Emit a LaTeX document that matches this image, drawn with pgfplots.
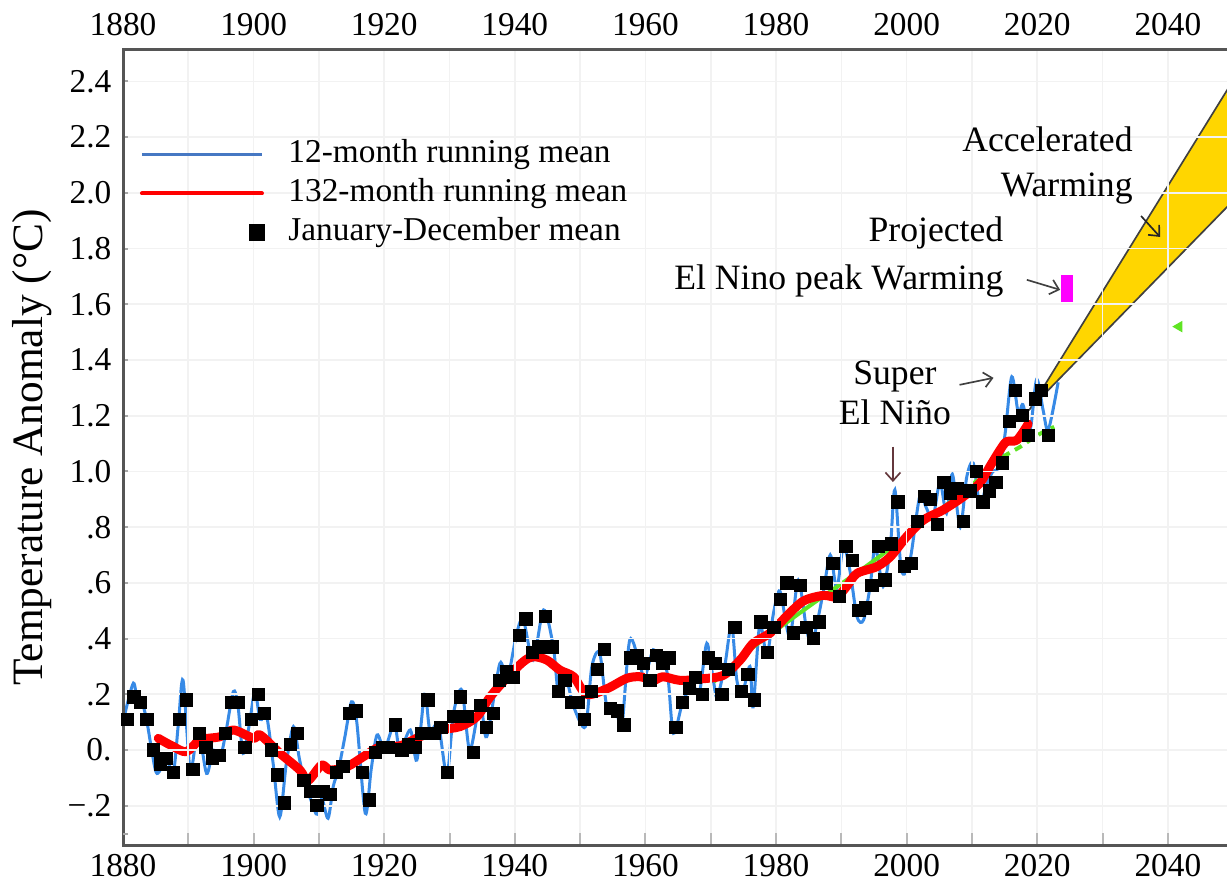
\documentclass[border=0pt]{standalone}
\usepackage{fontspec}
\setmainfont{Liberation Serif}
\usepackage{pgfplots}
\usepackage{pgfplotstable}
\pgfplotsset{compat=1.18}
\usetikzlibrary{arrows.meta}

\definecolor{runblue}{RGB}{55,138,230}
\definecolor{legblue}{RGB}{70,120,195}
\definecolor{wedge}{RGB}{255,214,0}
\definecolor{trendgreen}{RGB}{95,228,35}
\definecolor{axisgray}{RGB}{85,85,85}
\definecolor{arrowred}{RGB}{100,55,60}
\definecolor{peakmagenta}{RGB}{255,0,255}

% January-December means
\pgfplotstableread{
x y
1880.7 0.11
1881.7 0.19
1882.7 0.17
1883.7 0.11
1884.7 0.00
1885.7 -0.05
1886.7 -0.03
1887.7 -0.08
1888.7 0.11
1889.7 0.18
1890.7 -0.07
1891.7 0.06
1892.7 0.01
1893.7 -0.03
1894.7 -0.02
1895.7 0.06
1896.7 0.17
1897.7 0.17
1898.7 0.01
1899.7 0.11
1900.7 0.20
1901.7 0.13
1902.7 0.00
1903.7 -0.09
1904.7 -0.19
1905.7 0.02
1906.7 0.06
1907.7 -0.11
1908.7 -0.15
1909.7 -0.20
1910.7 -0.15
1911.7 -0.16
1912.7 -0.08
1913.7 -0.06
1914.7 0.13
1915.7 0.14
1916.7 -0.08
1917.7 -0.18
1918.7 -0.01
1919.7 0.01
1920.7 0.01
1921.7 0.09
1922.7 0.00
1923.7 0.02
1924.7 0.01
1925.7 0.06
1926.7 0.18
1927.7 0.06
1928.7 0.08
1929.7 -0.08
1930.7 0.12
1931.7 0.19
1932.7 0.12
1933.7 -0.01
1934.7 0.16
1935.7 0.08
1936.7 0.13
1937.7 0.25
1938.7 0.28
1939.7 0.26
1940.7 0.41
1941.7 0.47
1942.7 0.35
1943.7 0.37
1944.7 0.48
1945.7 0.37
1946.7 0.21
1947.7 0.25
1948.7 0.17
1949.7 0.17
1950.7 0.11
1951.7 0.21
1952.7 0.29
1953.7 0.36
1954.7 0.15
1955.7 0.14
1956.7 0.09
1957.7 0.33
1958.7 0.34
1959.7 0.31
1960.7 0.25
1961.7 0.34
1962.7 0.31
1963.7 0.33
1964.7 0.08
1965.7 0.17
1966.7 0.22
1967.7 0.26
1968.7 0.20
1969.7 0.33
1970.7 0.31
1971.7 0.20
1972.7 0.29
1973.7 0.44
1974.7 0.21
1975.7 0.27
1976.7 0.18
1977.7 0.46
1978.7 0.35
1979.7 0.44
1980.7 0.54
1981.7 0.60
1982.7 0.42
1983.7 0.59
1984.7 0.44
1985.7 0.40
1986.7 0.46
1987.7 0.60
1988.7 0.67
1989.7 0.55
1990.7 0.73
1991.7 0.68
1992.7 0.50
1993.7 0.51
1994.7 0.59
1995.7 0.73
1996.7 0.61
1997.7 0.74
1998.7 0.89
1999.7 0.66
2000.7 0.67
2001.7 0.82
2002.7 0.91
2003.7 0.90
2004.7 0.81
2005.7 0.96
2006.7 0.92
2007.7 0.94
2008.7 0.82
2009.7 0.93
2010.7 1.00
2011.7 0.89
2012.7 0.93
2013.7 0.96
2014.7 1.03
2015.7 1.18
2016.7 1.29
2017.7 1.20
2018.7 1.13
2019.7 1.26
2020.7 1.29
2021.7 1.13
}\annualmean

% 12-month running mean (turning points)
\pgfplotstableread{
x y
1880.2 0.12
1881.6 0.24
1882.3 0.155
1882.9 0.17
1883.6 0.11
1884.4 0.0
1885.2 -0.084
1886.7 -0.036
1887.7 -0.084
1888.5 0.10
1889.2 0.25
1890.3 -0.072
1891.5 0.072
1892.8 -0.084
1893.8 0.0
1894.9 -0.024
1895.8 0.07
1896.9 0.21
1897.6 0.16
1898.4 -0.012
1899.4 0.10
1900.2 0.21
1901.0 0.11
1902.0 0.12
1903.0 -0.05
1904.0 -0.24
1905.0 -0.05
1906.1 0.084
1907.0 -0.03
1907.9 -0.12
1909.1 -0.20
1909.7 -0.23
1910.4 -0.17
1911.4 -0.245
1912.2 -0.13
1913.0 -0.07
1914.0 0.05
1915.0 0.173
1915.8 0.10
1917.1 -0.227
1918.0 -0.07
1918.9 0.054
1920.0 0.0
1920.8 0.05
1921.6 0.10
1922.4 0.0
1924.0 0.072
1925.0 -0.036
1926.2 0.20
1927.0 0.07
1928.3 0.09
1929.6 -0.09
1930.6 0.13
1931.9 0.215
1933.1 0.0
1934.7 0.168
1935.7 0.048
1937.7 0.31
1938.8 0.25
1940.3 0.42
1941.3 0.467
1942.8 0.323
1944.4 0.503
1945.9 0.37
1946.7 0.20
1947.9 0.25
1949.0 0.156
1950.8 0.084
1951.8 0.30
1953.0 0.347
1954.1 0.156
1955.6 0.132
1956.4 0.084
1957.6 0.395
1959.2 0.30
1959.9 0.26
1961.2 0.36
1962.0 0.30
1962.7 0.335
1963.5 0.25
1964.3 0.06
1965.8 0.18
1967.3 0.227
1968.3 0.21
1969.4 0.383
1970.4 0.25
1971.0 0.19
1972.2 0.31
1973.2 0.45
1974.0 0.25
1974.9 0.21
1976.0 0.30
1976.5 0.155
1977.5 0.45
1978.6 0.34
1979.6 0.49
1980.6 0.57
1982.1 0.407
1983.4 0.61
1984.7 0.43
1985.6 0.39
1987.2 0.563
1988.3 0.70
1989.3 0.58
1990.3 0.73
1991.3 0.646
1992.4 0.479
1993.4 0.467
1994.4 0.587
1995.2 0.73
1996.4 0.587
1997.5 0.73
1998.2 0.934
1999.2 0.646
2000.5 0.68
2002.0 0.91
2003.0 0.87
2004.0 0.83
2005.1 0.96
2006.1 0.85
2007.0 0.99
2008.2 0.80
2009.2 0.98
2010.2 1.03
2011.2 0.88
2012.2 0.95
2013.2 1.00
2014.3 1.02
2015.1 1.14
2016.1 1.34
2017.1 1.21
2017.8 1.24
2018.9 1.15
2019.9 1.33
2020.9 1.22
2021.7 1.15
2023.2 1.32
}\runmean

% 132-month running mean
\pgfplotstableread{
x y
1885.4 0.042
1887.5 0.015
1889.7 -0.006
1891.8 0.036
1894.9 0.048
1896.9 0.072
1900.0 0.042
1901.0 0.054
1904.0 -0.011
1907.1 -0.072
1908.3 -0.11
1910.4 -0.054
1911.7 -0.072
1914.3 -0.06
1916.8 -0.024
1919.4 0.012
1922.4 0.015
1925.5 0.048
1928.5 0.072
1931.6 0.084
1934.2 0.12
1936.2 0.19
1938.8 0.26
1941.3 0.317
1942.8 0.335
1944.9 0.323
1946.9 0.287
1949.0 0.263
1951.0 0.20
1954.1 0.22
1957.1 0.257
1959.2 0.263
1961.2 0.25
1962.7 0.263
1965.3 0.25
1968.4 0.255
1971.9 0.268
1974.5 0.323
1976.5 0.383
1979.1 0.42
1981.6 0.48
1984.2 0.535
1987.2 0.555
1989.3 0.55
1990.8 0.587
1992.4 0.634
1995.4 0.658
1997.5 0.694
2000.0 0.766
2002.6 0.826
2005.6 0.862
2008.7 0.91
2011.2 0.958
2012.8 1.02
2014.3 1.077
2015.3 1.107
2016.9 1.113
2018.6 1.17
}\longmean

\begin{document}
\begin{tikzpicture}
\pgfplotsset{
  chartbase/.style={
    at={(36.9pt,11.4pt)}, anchor=south west,
    scale only axis, width=336.96pt, height=238.5pt,
    xmin=1880, xmax=2052, ymin=-0.341, ymax=2.513,
    tick label style={font=\fontsize{10}{12}\selectfont},
    xtick={1880,1900,...,2040},
    xticklabels={1880,1900,1920,1940,1960,1980,2000,2020,2040},
  },
}
\begin{axis}[
  chartbase,
  axis on top, clip=true,
  axis line style={draw=axisgray, line width=0.9pt},
  minor x tick num=1,
  xtick pos=left, ytick pos=left,
  tick align=inside,
  major tick length=3.6pt, minor tick length=3.6pt,
  xtick style={draw=gray!55, line width=0.6pt},
  ytick style={draw=gray!70, line width=0.6pt, /pgfplots/major tick length=1.5pt},
  ytick={-0.2,0,0.2,0.4,0.6,0.8,1.0,1.2,1.4,1.6,1.8,2.0,2.2,2.4},
  yticklabels={−.2,0.,.2,.4,.6,.8,1.0,1.2,1.4,1.6,1.8,2.0,2.2,2.4},
  extra y ticks={-0.3}, extra y tick labels={},
  extra y tick style={tick style={draw=axisgray}, grid=none},
  xmajorgrids, xminorgrids, ymajorgrids,
  grid style={draw=gray!10, line width=0.5pt},
  xticklabel style={inner sep=0pt, yshift=-2.7pt},
  yticklabel style={inner sep=0pt, xshift=-3.3pt},
  ylabel={Temperature Anomaly (°C)},
  ylabel style={at={(axis description cs:-0.081,0.5)}, anchor=center,
    font=\fontsize{13}{15}\selectfont},
  legend style={draw=none, fill=none, inner sep=0pt, outer sep=0pt,
    at={(axis description cs:0.0151,0.8195)}, anchor=west,
    row sep=2.4pt, column sep=7pt,
    font=\fontsize{10}{12}\selectfont,
    nodes={inner sep=0pt, text height=7pt, text depth=2.3pt},
    cells={anchor=west}},
]
% projected warming band
\addplot[fill=wedge, draw=black!75, line width=0.5pt, forget plot]
  coordinates {(2018.9,1.225) (2052,2.48) (2052,2.02)} -- cycle;

\addplot[runblue, line width=0.9pt, smooth, tension=0.5,
  legend image code/.code={\draw[legblue, line width=0.9pt] (0pt,0pt) -- (36pt,0pt);}]
  table {\runmean};
\addlegendentry{12-month running mean}

% trend line under the long running mean
\addplot[trendgreen, line width=1.2pt, smooth, forget plot]
  coordinates {(1970.5,0.245) (1976,0.36) (1985,0.515) (1995,0.68) (2005,0.86) (2010,0.95)};
\addplot[trendgreen, line width=1.2pt, smooth, dash pattern=on 2.4pt off 1.8pt, forget plot]
  coordinates {(2010,0.95) (2014,1.04) (2017.5,1.09) (2020,1.13) (2022.6,1.16)};
\addplot[only marks, mark=triangle*, mark size=1.6pt, trendgreen,
  mark options={rotate=90}, forget plot] coordinates {(2041.7,1.52)};

\addplot[red, line width=2.7pt, smooth, tension=0.5, line join=round, line cap=round,
  legend image code/.code={\draw[red, line width=1.2pt] (0pt,0pt) -- (36pt,0pt);}]
  table {\longmean};
\addlegendentry{132-month running mean}

\addplot[only marks, mark=square*, mark size=1.8pt, black,
  legend image code/.code={\fill[black] (32.25pt,-2.25pt) rectangle (36.75pt,2.25pt);}]
  table {\annualmean};
\addlegendentry{January-December mean}

% projected El Nino peak
\addplot[fill=peakmagenta, draw=none, forget plot]
  coordinates {(2023.6,1.61) (2025.4,1.61) (2025.4,1.705) (2023.6,1.705)} -- cycle;
\end{axis}

% year labels along the top edge, and the notes
\begin{axis}[
  chartbase,
  axis line style={draw=none},
  xtick style={draw=none},
  ytick=\empty,
  xticklabel pos=right,
  xticklabel style={inner sep=0pt, yshift=4.2pt},
]
\node[anchor=east, align=right, font=\fontsize{10.7}{13.5}\selectfont, inner sep=0pt]
  at (axis cs:2034.7,2.099) {Accelerated\\Warming};
\draw[-{Straight Barb[length=2.5pt,width=4.5pt]}, line width=0.5pt, black!85]
  (axis cs:2035.9,1.917) -- (axis cs:2038.8,1.842);
\node[anchor=east, align=right, font=\fontsize{10.7}{14.4}\selectfont, inner sep=0pt]
  at (axis cs:2014.9,1.770) {Projected\\El Nino peak Warming};
\draw[-{Straight Barb[length=2.5pt,width=4.5pt]}, line width=0.5pt, black!75]
  (axis cs:2018.4,1.688) -- (axis cs:2023.5,1.652);
\node[align=center, font=\fontsize{10.7}{12}\selectfont, inner sep=0pt]
  at (axis cs:1998.2,1.282) {Super\\El Niño};
\draw[-{Straight Barb[length=2.5pt,width=4.5pt]}, line width=0.5pt, arrowred]
  (axis cs:1997.9,1.089) -- (axis cs:1997.9,0.962);
\draw[-{Straight Barb[length=2.5pt,width=4.5pt]}, line width=0.5pt, black!75]
  (axis cs:2008.1,1.311) -- (axis cs:2013.3,1.336);
\end{axis}

\pgfresetboundingbox
\path[use as bounding box] (0pt,0pt) rectangle (368.1pt,264.9pt);
\end{tikzpicture}
\end{document}
